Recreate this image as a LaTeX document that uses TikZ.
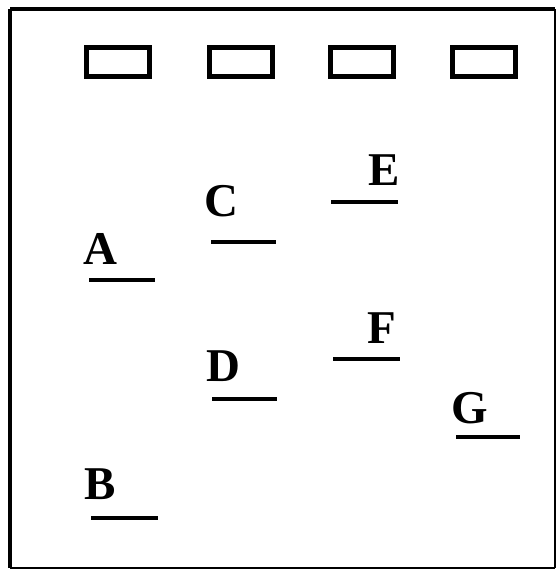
\documentclass[tikz,border=0pt]{standalone}
\usepackage{fontspec}
\setmainfont{Liberation Serif}
\begin{document}
\begin{tikzpicture}[x=1pt,y=-1pt,
  well/.style={draw,line width=5pt,minimum width=63pt,minimum height=29pt,inner sep=0pt},
  band/.style={line width=4.5pt},
  lbl/.style={font=\fontsize{47}{47}\selectfont\bfseries,inner sep=0pt}]
\useasboundingbox[fill=white] (0,0) rectangle (558,571);
% frame
\coordinate (tl) at (10,9);
\coordinate (tr) at (555,9);
\coordinate (bl) at (10,568);
\coordinate (br) at (555,568);
\draw[line width=4pt] (tl) -- (tr);
\draw[line width=4pt] (tl) -- (bl);
\draw[line width=2pt] (tr) -- (br);
\draw[line width=2pt] (bl) -- (br);
% wells
\node[well] (w1) at (118,62) {};
\node[well] (w2) at (241,62) {};
\node[well] (w3) at (362,62) {};
\node[well] (w4) at (484,62) {};
% labels
\node[lbl] (A) at (100,249) {A};
\node[lbl] (C) at (221,201) {C};
\node[lbl] (E) at (384,170) {E};
\node[lbl] (F) at (382,328) {F};
\node[lbl] (D) at (223,366) {D};
\node[lbl] (G) at (470,408) {G};
\node[lbl] (B) at (100,484) {B};
% bands
\coordinate (a1) at (89,280);  \coordinate (a2) at (155,280);
\coordinate (c1) at (211,242); \coordinate (c2) at (276,242);
\coordinate (e1) at (331,202); \coordinate (e2) at (398,202);
\coordinate (f1) at (333,359); \coordinate (f2) at (400,359);
\coordinate (d1) at (212,399); \coordinate (d2) at (277,399);
\coordinate (g1) at (456,437); \coordinate (g2) at (520,437);
\coordinate (b1) at (91,518);  \coordinate (b2) at (158,518);
\draw[band] (a1) -- (a2);
\draw[band] (c1) -- (c2);
\draw[band] (e1) -- (e2);
\draw[band] (f1) -- (f2);
\draw[band] (d1) -- (d2);
\draw[band] (g1) -- (g2);
\draw[band] (b1) -- (b2);
\end{tikzpicture}
\end{document}
